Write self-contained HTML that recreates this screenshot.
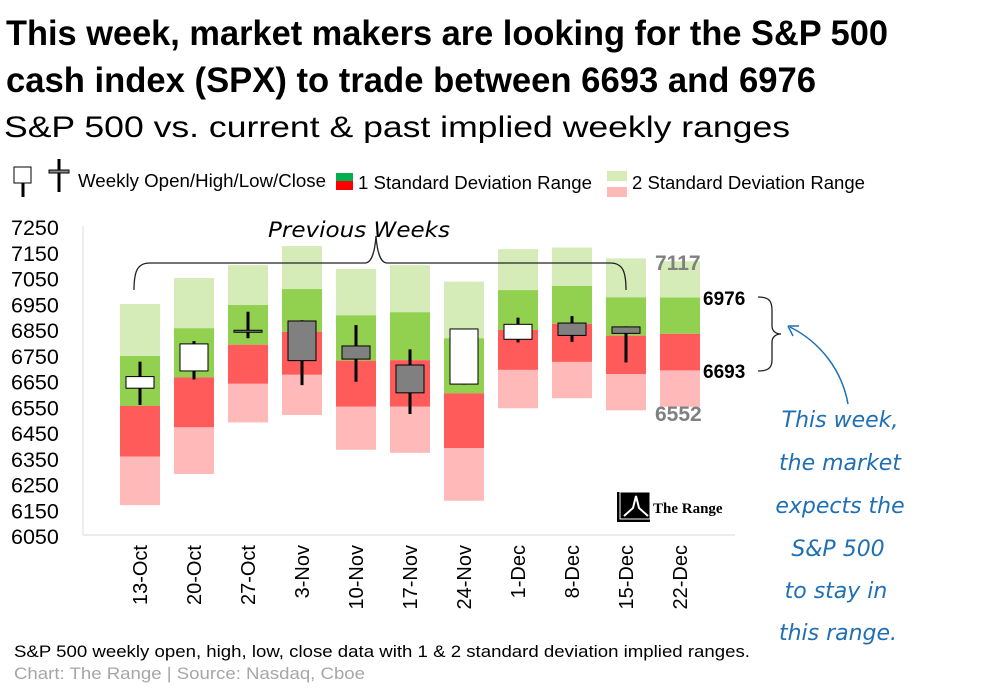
<!DOCTYPE html>
<html><head><meta charset="utf-8"><style>
body{margin:0;background:#fff;width:1007px;height:700px;overflow:hidden;font-family:"Liberation Sans",sans-serif}
svg{position:absolute;left:0;top:0}
</style></head><body>
<svg width="1007" height="700" xmlns="http://www.w3.org/2000/svg">
<text x="6" y="45" font-family="Liberation Sans Narrow, Liberation Sans, sans-serif" font-weight="bold" font-size="35" textLength="882" lengthAdjust="spacingAndGlyphs">This week, market makers are looking for the S&amp;P 500</text>
<text x="6" y="92" font-family="Liberation Sans Narrow, Liberation Sans, sans-serif" font-weight="bold" font-size="35" textLength="810" lengthAdjust="spacingAndGlyphs">cash index (SPX) to trade between  6693 and 6976</text>
<text x="4" y="137" font-size="30" textLength="786" lengthAdjust="spacingAndGlyphs">S&amp;P 500 vs. current &amp; past implied weekly ranges</text>
<g>
<rect x="14" y="167" width="17" height="16" fill="#fff" stroke="#000"/>
<line x1="23" y1="183" x2="23" y2="197" stroke="#000" stroke-width="3"/>
<line x1="59" y1="159" x2="59" y2="192" stroke="#000" stroke-width="3"/>
<rect x="49" y="170" width="20" height="3" fill="#888" stroke="#000"/>
<text x="78" y="187" font-size="18" textLength="248" lengthAdjust="spacingAndGlyphs">Weekly Open/High/Low/Close</text>
<rect x="336" y="173" width="17" height="8" fill="#00b050"/>
<rect x="336" y="181" width="17" height="9" fill="#ff0000"/>
<text x="358" y="189" font-size="18" textLength="234" lengthAdjust="spacingAndGlyphs">1 Standard Deviation Range</text>
<rect x="607" y="171" width="20" height="10" fill="#d5ecb9"/>
<rect x="607" y="187" width="20" height="10" fill="#ffb9b9"/>
<text x="632" y="189" font-size="18" textLength="233" lengthAdjust="spacingAndGlyphs">2 Standard Deviation Range</text>
</g>
<g id="yaxis"></g>
<line x1="83" y1="226" x2="83" y2="535" stroke="#ddd"/>
<line x1="83" y1="535" x2="735" y2="535" stroke="#d9d9d9"/>
<g id="bars"></g>
<g id="xaxis"></g>
<path d="M134,290 C134,270 138,263 150,263 L365,263 C372,263 375,250 376,236 C377,250 380,263 387,263 L610,263 C622,263 626,270 626,290" fill="none" stroke="#222" stroke-width="1.3"/>
<text x="268" y="237" font-family="DejaVu Sans, sans-serif" font-style="italic" font-size="21" textLength="182" lengthAdjust="spacingAndGlyphs">Previous Weeks</text>
<text x="655" y="270" font-size="21" font-weight="bold" fill="#808080">7117</text>
<text x="703" y="305" font-size="19" font-weight="bold">6976</text>
<text x="703" y="378" font-size="19" font-weight="bold">6693</text>
<text x="655" y="421" font-size="21" font-weight="bold" fill="#808080">6552</text>
<path d="M758,297 C768,297 772,300 772,310 L772,326 C772,331 776,334 781,334 C776,334 772,337 772,342 L772,360 C772,368 768,371 758,371" fill="none" stroke="#222" stroke-width="1.3"/>
<path d="M848,404 C842,370 820,342 790,327" fill="none" stroke="#1f6fb5" stroke-width="1.5"/>
<path d="M788,326 L799,326 M788,326 L793,336" stroke="#1f6fb5" stroke-width="1.5" fill="none"/>
<g font-family="DejaVu Sans, sans-serif" font-style="italic" font-size="22" fill="#1f6fb5" text-anchor="middle">
<text x="840" y="427">This week,</text><text x="840" y="470">the market</text><text x="840" y="513">expects the</text><text x="838" y="556">S&amp;P 500</text><text x="836" y="598">to stay in</text><text x="838" y="640">this range.</text></g>
<g>
<rect x="617" y="492" width="33" height="30" fill="#000"/><rect x="620" y="492" width="30" height="27" fill="#000" stroke="#fff"/>
<path d="M624,516 L633,508 L636,496 L639,508 L648,516" stroke="#fff" stroke-width="2" fill="none"/>
<text x="653" y="513" font-family="Liberation Serif, serif" font-weight="bold" font-size="15">The Range</text></g>
<text x="14" y="657" font-size="16.5" textLength="736" lengthAdjust="spacingAndGlyphs">S&amp;P 500 weekly open, high, low, close data with  1 &amp; 2 standard deviation implied ranges.</text>
<text x="14" y="679" font-size="17" fill="#a6a6a6" textLength="351" lengthAdjust="spacingAndGlyphs">Chart: The Range | Source: Nasdaq, Cboe</text>
</svg>
<script>
const weeks=["13-Oct","20-Oct","27-Oct","3-Nov","10-Nov","17-Nov","24-Nov","1-Dec","8-Dec","15-Dec","22-Dec"];
const sd2Hi=[6951,7052,7102,7176,7087,7102,7038,7164,7170,7128,7117];
const sd1Hi=[6749,6857,6947,7009,6907,6919,6818,7005,7021,6977,6976];
const mid=[6555,6666,6793,6843,6731,6733,6604,6850,6874,6828,6835];
const sd1Lo=[6358,6472,6641,6676,6552,6552,6391,6695,6726,6679,6693];
const sd2Lo=[6170,6291,6491,6520,6385,6373,6187,6546,6585,6538,6552];
const opens=[6624,6691,6849,6885,6788,6714,6640,6814,6877,6862,null];
const highs=[6727,6807,6921,6888,6869,6775,6854,6898,6904,6864,null];
const lows=[6559,6658,6818,6636,6649,6524,6638,6802,6804,6724,null];
const closes=[6669,6796,6843,6731,6737,6606,6854,6872,6829,6837,null];
const yTicks=[7250,7150,7050,6950,6850,6750,6650,6550,6450,6350,6250,6150,6050];
const NS="http://www.w3.org/2000/svg";
function y(v){return 536-(v-6050)*0.2575;}
function x(i){return 140+i*54;}
function mk(tag,attrs,parent){const e=document.createElementNS(NS,tag);for(const k in attrs)e.setAttribute(k,attrs[k]);parent.appendChild(e);return e;}
const ya=document.getElementById('yaxis');
yTicks.forEach(t=>{const e=mk('text',{x:11,y:y(t)+8,'font-size':21.5},ya);e.textContent=t;

});
const g=document.getElementById('bars');
const W=40;
weeks.forEach((w,i)=>{
 const cx=x(i);
 const segs=[[sd2Hi[i],sd1Hi[i],'#d5ecb9'],[sd1Hi[i],mid[i],'#92d050'],[mid[i],sd1Lo[i],'#ff5b5b'],[sd1Lo[i],sd2Lo[i],'#ffb9b9']];
 segs.forEach(s=>{const r=mk('rect',{x:cx-W/2,y:y(s[0]),width:W,height:y(s[1])-y(s[0]),fill:s[2]},g);
 
 });
 if(opens[i]!==null){
  const l=mk('line',{x1:cx,x2:cx,y1:y(highs[i]),y2:y(lows[i]),stroke:'#000','stroke-width':3},g);
  
  
  const up=closes[i]>=opens[i];
  const top=y(Math.max(opens[i],closes[i])),bot=y(Math.min(opens[i],closes[i]));
  const b=mk('rect',{x:cx-14,y:top,width:28,height:Math.max(bot-top,2),fill:up?'#fff':'#808080',stroke:'#000','stroke-width':1},g);
  
  
 }
 const t=mk('text',{x:0,y:0,'font-size':20,'text-anchor':'end',transform:`translate(${cx+7},545) rotate(-90)`},document.getElementById('xaxis'));
 t.textContent=w;
 
 
});
</script>
</body></html>
